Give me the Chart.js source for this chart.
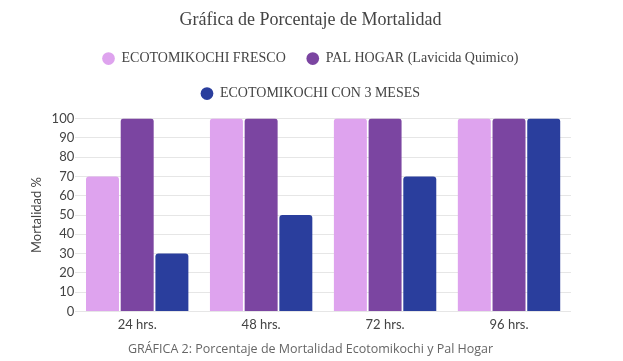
<!DOCTYPE html>
<html>
<head>
<meta charset="utf-8">
<script src="https://cdn.jsdelivr.net/npm/chart.js@4"></script>
<style>
  html, body { margin: 0; padding: 0; background: #fff; }
  #wrap { width: 623px; height: 361px; }
</style>
</head>
<body>
<div id="wrap"><canvas id="myChart"></canvas></div>
<script>
var categories = ['24 hrs.', '48 hrs.', '72 hrs.', '96 hrs.'];
var fresco = [70, 100, 100, 100];
var palHogar = [100, 100, 100, 100];
var tresMeses = [30, 50, 70, 100];

var serif = "'Liberation Serif', 'DejaVu Serif', serif";
var sans = "Lato, 'Open Sans', sans-serif";

// a bit of room between the legend and the plot
var legendGap = {
  id: 'legendGap',
  beforeInit: function(chart) {
    var fit = chart.legend.fit;
    chart.legend.fit = function() {
      fit.bind(chart.legend)();
      this.height += 8;
    };
  }
};

var ctx = document.getElementById('myChart').getContext('2d');
var myChart = new Chart(ctx, {
  type: 'bar',
  data: {
    labels: categories,
    datasets: [{
      label: 'ECOTOMIKOCHI FRESCO',
      data: fresco,
      backgroundColor: 'rgb(222, 163, 238)'
    }, {
      label: 'PAL HOGAR (Lavicida Quimico)',
      data: palHogar,
      backgroundColor: 'rgb(123, 69, 161)'
    }, {
      label: 'ECOTOMIKOCHI CON 3 MESES',
      data: tresMeses,
      backgroundColor: 'rgb(42, 62, 157)'
    }]
  },
  options: {
    responsive: true,
    maintainAspectRatio: false,
    animation: false,
    layout: { padding: { left: 23, right: 25, top: 8, bottom: 4 } },
    datasets: {
      bar: {
        categoryPercentage: 0.84,
        barPercentage: 0.95,
        borderRadius: { topLeft: 3, topRight: 3 },
        borderSkipped: 'bottom'
      }
    },
    scales: {
      x: {
        grid: { display: false, drawTicks: false },
        border: { display: false },
        ticks: { color: '#444', font: { family: sans, size: 13 }, padding: 6 }
      },
      y: {
        min: 0,
        max: 100,
        ticks: { stepSize: 10, color: '#444', font: { family: sans, size: 13 }, padding: 1 },
        grid: { color: '#e6e6e6', drawTicks: false },
        border: { display: false },
        title: {
          display: true,
          text: 'Mortalidad %',
          color: '#444',
          font: { family: sans, size: 13 },
          padding: 6
        }
      },
      // empty right margin so the title and legend stay centred on the page
      yRight: {
        position: 'right',
        grid: { display: false, drawTicks: false },
        border: { display: false },
        ticks: { display: false },
        afterFit: function(scale) { scale.width = 27; }
      }
    },
    plugins: {
      legend: {
        position: 'top',
        labels: {
          usePointStyle: true,
          pointStyle: 'circle',
          boxWidth: 12,
          boxHeight: 9,
          padding: 21,
          color: '#444',
          font: { family: serif, size: 14, lineHeight: 1 }
        }
      },
      title: {
        display: true,
        text: 'Gráfica de Porcentaje de Mortalidad',
        color: '#444',
        font: { family: serif, size: 18, weight: 'normal' },
        padding: { top: 1, bottom: 0 }
      },
      subtitle: {
        display: true,
        position: 'bottom',
        text: 'GRÁFICA 2: Porcentaje de Mortalidad Ecotomikochi y Pal Hogar',
        color: '#666',
        font: { family: "'Open Sans', sans-serif", size: 12.5 },
        padding: { top: 3, bottom: 0 }
      },
      tooltip: { enabled: false }
    }
  },
  plugins: [legendGap]
});
</script>
</body>
</html>
